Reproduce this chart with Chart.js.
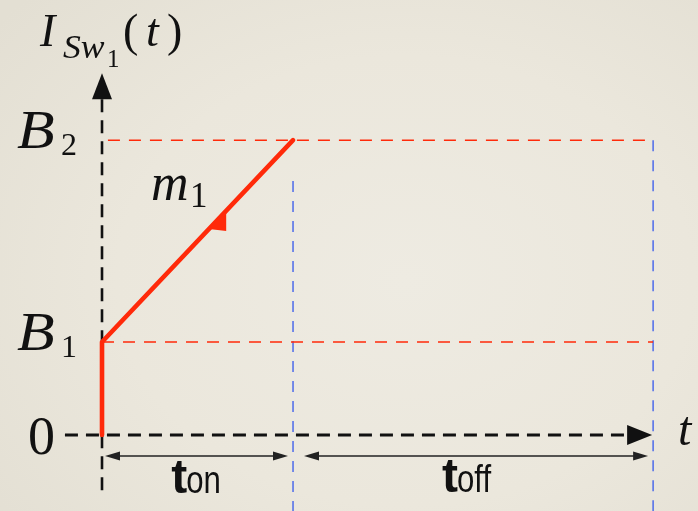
<!DOCTYPE html>
<html>
<head>
<meta charset="utf-8">
<script src="https://cdn.jsdelivr.net/npm/chart.js@4/dist/chart.umd.min.js"></script>
<style>
  html, body { margin: 0; padding: 0; }
  body {
    width: 698px; height: 511px; overflow: hidden;
    background: radial-gradient(ellipse 75% 80% at 58% 55%, #EEEBE2 0%, #EBE7DC 55%, #E3DFD3 100%);
  }
  #c { display: block; }
</style>
</head>
<body>
<canvas id="c" width="698" height="511"></canvas>
<script>
// ---- data -------------------------------------------------------------
// switching phases, durations normalised to t_on
const phaseNames = ['on', 'off'];
const phaseDurations = [1, 1.885];

// current levels on the vertical axis
const levelValues = [0, 1, 3.17];
const levelMain = ['0', 'B', 'B'];
const levelSub = ['', '1', '2'];

// switch current I_Sw1(t): step to B1 at t = 0, then ramp (slope m1) to B2 at t_on
const currentTimes = [0, 0, 1];
const currentValues = [0, 1, 3.17];

// ---- layout -----------------------------------------------------------
const tOn = phaseDurations[0];
const period = phaseDurations[0] + phaseDurations[1];
const B1 = levelValues[1];
const B2 = levelValues[2];

const X_MIN = -0.534, X_MAX = 3.120;
const Y_MIN = -0.817, Y_MAX = 4.677;
const W = 698, H = 511;
const pxX = W / (X_MAX - X_MIN);   // pixels per time unit
const pxY = H / (Y_MAX - Y_MIN);   // pixels per current unit

const axisXFrom = -0.194;           // left end of the time axis
const axisYFrom = -0.667;           // bottom end of the current axis
const axisYTip = 3.89;              // top of the current-axis arrow
const arrowLen = 25, arrowHalf = 10;
const guideB2From = 0.031;
const guideOnTop = 2.73;

const serif = '"Liberation Serif", "Times New Roman", serif';
const sans = '"Liberation Sans", Arial, sans-serif';

const RED = '#FF2A0A';
const BLUE = '#4D6BEA';
const BLACK = '#111111';

const pts = (xs, ys) => xs.map((x, i) => ({ x, y: ys[i] }));

// draw order: lower "order" is painted last (on top)
const datasets = [
  // the switch current
  { order: 0, data: pts(currentTimes, currentValues), borderColor: RED, borderWidth: 4.6,
    borderCapStyle: 'round', borderJoinStyle: 'round' },
  // dashed axes (arrowheads drawn by the plugin)
  { order: 1, data: [{ x: axisXFrom, y: 0 }, { x: period - arrowLen / pxX, y: 0 }], borderColor: BLACK, borderWidth: 3, borderDash: [13, 8] },
  { order: 1, data: [{ x: 0, y: axisYTip - 26 / pxY }, { x: 0, y: axisYFrom }], borderColor: BLACK, borderWidth: 2.6, borderDash: [13, 8] },
  // horizontal guides at B1 and B2
  { order: 2, data: [{ x: 0, y: B1 }, { x: period, y: B1 }], borderColor: RED, borderWidth: 1.5, borderDash: [12, 9] },
  { order: 2, data: [{ x: guideB2From, y: B2 }, { x: period, y: B2 }], borderColor: RED, borderWidth: 1.5, borderDash: [12, 9] },
  // vertical guides at t_on and at the end of the period
  { order: 3, data: [{ x: tOn, y: guideOnTop }, { x: tOn, y: Y_MIN }], borderColor: BLUE, borderWidth: 1.5, borderDash: [11, 9] },
  { order: 3, data: [{ x: period, y: B2 }, { x: period, y: Y_MIN }], borderColor: BLUE, borderWidth: 1.5, borderDash: [11, 9] }
];
datasets.forEach(d => { d.showLine = true; d.pointRadius = 0; d.fill = false; d.tension = 0; d.clip = false; });

function arrowHead(ctx, tipX, tipY, dirX, dirY, len, half) {
  const bx = tipX - dirX * len, by = tipY - dirY * len;
  const nx = -dirY, ny = dirX;
  ctx.beginPath();
  ctx.moveTo(tipX, tipY);
  ctx.lineTo(bx + nx * half, by + ny * half);
  ctx.lineTo(bx - nx * half, by - ny * half);
  ctx.closePath();
  ctx.fill();
}

function dimension(ctx, x1, x2, y) {
  ctx.save();
  ctx.strokeStyle = '#222';
  ctx.fillStyle = '#222';
  ctx.lineWidth = 1.6;
  ctx.beginPath();
  ctx.moveTo(x1 + 10, y);
  ctx.lineTo(x2 - 10, y);
  ctx.stroke();
  arrowHead(ctx, x1, y, -1, 0, 15, 4.5);
  arrowHead(ctx, x2, y, 1, 0, 15, 4.5);
  ctx.restore();
}

function text(ctx, s, x, y, font, sx) {
  ctx.save();
  ctx.font = font;
  ctx.textAlign = 'left';
  ctx.textBaseline = 'alphabetic';
  ctx.translate(x, y);
  ctx.scale(sx || 1, 1);
  ctx.fillText(s, 0, 0);
  const w = ctx.measureText(s).width * (sx || 1);
  ctx.restore();
  return w;
}

// phase label such as t_on: large bold "t" followed by the phase name
function phaseLabel(ctx, name, cx, baseline) {
  ctx.save();
  ctx.font = 'bold 48px ' + sans;
  const wt = ctx.measureText('t').width;
  ctx.font = '38px ' + sans;
  const wn = ctx.measureText(name).width * 0.82;
  ctx.restore();
  const x0 = cx - (wt + wn) / 2;
  text(ctx, 't', x0, baseline, 'bold 48px ' + sans);
  text(ctx, name, x0 + wt - 1, baseline, '38px ' + sans, 0.82);
}

const decorations = {
  id: 'decorations',
  afterDatasetsDraw(chart) {
    const { ctx, scales } = chart;
    const X = v => scales.x.getPixelForValue(v);
    const Y = v => scales.y.getPixelForValue(v);
    ctx.save();
    ctx.fillStyle = BLACK;

    // axis arrowheads
    arrowHead(ctx, X(period) - 1, Y(0), 1, 0, arrowLen, arrowHalf);
    arrowHead(ctx, X(0), Y(axisYTip), 0, -1, 26, arrowHalf);

    // slope marker on the ramp
    const slope = (currentValues[2] - currentValues[1]) / (currentTimes[2] - currentTimes[1]);
    const ta = 0.56, tb = 0.65;
    const ya = B1 + slope * ta, yb = B1 + slope * tb;
    ctx.fillStyle = RED;
    ctx.beginPath();
    ctx.moveTo(X(ta), Y(ya));
    ctx.lineTo(X(tb), Y(yb));
    ctx.lineTo(X(tb), Y(ya) + 2);
    ctx.closePath();
    ctx.fill();

    // duration arrows
    const yDim = Y(0) + 21;
    dimension(ctx, X(0) + 3, X(tOn) - 5, yDim);
    dimension(ctx, X(tOn) + 11, X(period) - 5, yDim);

    ctx.fillStyle = BLACK;
    phaseLabel(ctx, phaseNames[0], (X(0) + X(tOn)) / 2 - 1, Y(0) + 58);
    phaseLabel(ctx, phaseNames[1], (X(tOn) + X(period)) / 2 - 6, Y(0) + 57);

    // level labels on the vertical axis
    levelValues.forEach((v, i) => {
      if (levelSub[i]) {
        text(ctx, levelMain[i], 17, Y(v) + 8, 'italic 55px ' + serif, 1.12);
        text(ctx, levelSub[i], 61, Y(v) + 15, '32px ' + serif);
      } else {
        text(ctx, levelMain[i], 28, Y(v) + 19, '54px ' + serif);
      }
    });

    // slope label m1
    text(ctx, 'm', 151, 200, 'italic 52px ' + serif);
    text(ctx, '1', 190, 207, '35px ' + serif);

    // axis titles
    text(ctx, 'I', 40, 46, 'italic 46px ' + serif);
    text(ctx, 'Sw', 63, 58, 'italic 33px ' + serif, 1.08);
    text(ctx, '1', 107, 67, '25px ' + serif);
    text(ctx, '(', 123, 46, '46px ' + serif);
    text(ctx, 't', 146, 46, 'italic 46px ' + serif);
    text(ctx, ')', 167, 46, '46px ' + serif);
    text(ctx, 't', 678, 445, 'italic 48px ' + serif);

    ctx.restore();
  }
};

new Chart(document.getElementById('c'), {
  type: 'scatter',
  data: { datasets },
  options: {
    responsive: false,
    animation: false,
    events: [],
    layout: { padding: 0 },
    plugins: { legend: { display: false }, tooltip: { enabled: false }, title: { display: false } },
    scales: {
      x: { type: 'linear', display: false, min: X_MIN, max: X_MAX },
      y: { type: 'linear', display: false, min: Y_MIN, max: Y_MAX }
    }
  },
  plugins: [decorations]
});
</script>
</body>
</html>
